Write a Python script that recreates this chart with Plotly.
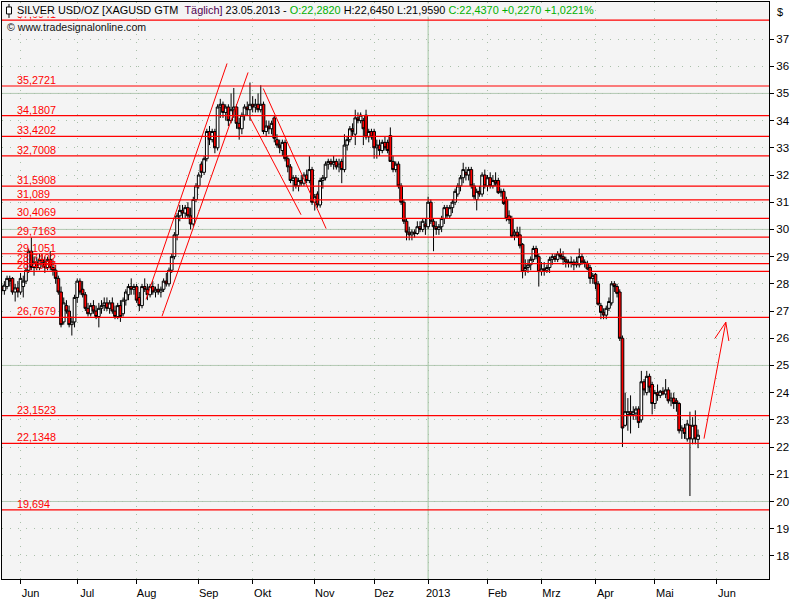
import pandas as pd
import plotly.graph_objects as go

# ---------------- data ----------------
open_ = [
    27.90, 27.75, 27.90, 28.20, 28.20, 27.70, 27.85, 27.70, 27.90, 28.10,
    28.50, 29.20, 28.60, 28.80, 28.60, 28.90, 28.80, 28.60, 28.90, 28.60,
    28.50, 28.20, 27.70, 26.60, 27.20, 27.00, 26.50, 26.60, 27.50, 28.10,
    27.80, 27.60, 27.10, 26.90, 27.20, 27.00, 26.80, 27.10, 27.20, 27.30,
    27.10, 27.30, 27.00, 26.80, 27.20, 26.90, 27.40, 27.60, 27.90, 27.80,
    27.90, 27.50, 27.20, 27.90, 27.80, 27.60, 27.90, 27.70, 27.80, 27.70,
    27.80, 28.10, 28.00, 28.50, 29.00, 29.80, 30.50, 30.70, 30.60, 30.80,
    30.50, 30.20, 31.10, 31.60, 32.40, 32.10, 32.60, 33.60, 33.30, 33.60,
    33.00, 34.50, 34.60, 34.30, 34.50, 34.00, 34.40, 34.50, 33.90, 33.70,
    34.20, 34.50, 34.40, 34.60, 34.50, 34.60, 34.40, 34.60, 33.60, 33.80,
    33.70, 34.10, 33.30, 33.10, 32.90, 33.20, 32.60, 32.30, 31.80, 31.90,
    31.60, 31.80, 31.70, 32.00, 31.80, 32.20, 31.00, 31.30, 30.90, 31.80,
    31.90, 32.40, 32.50, 32.40, 32.50, 32.30, 32.50, 32.20, 33.10, 33.30,
    33.70, 33.50, 34.10, 34.00, 34.00, 34.20, 33.40, 33.60, 33.60, 33.00,
    33.10, 32.90, 33.20, 33.20, 33.45, 32.50, 32.20, 32.40, 31.60, 31.00,
    30.30, 29.90, 29.80, 29.90, 29.85, 30.10, 30.00, 30.20, 30.10, 31.00,
    30.30, 30.10, 30.00, 30.10, 30.40, 30.80, 30.50, 30.80, 31.00, 31.30,
    31.60, 31.90, 32.10, 32.00, 32.20, 31.60, 31.10, 31.40, 31.30, 32.00,
    31.60, 31.90, 31.60, 31.80, 31.80, 31.35, 31.40, 31.10, 30.50, 30.40,
    29.80, 29.90, 29.80, 29.45, 28.50, 28.60, 28.70, 28.90, 29.30, 29.00,
    28.45, 28.55, 28.50, 28.60, 28.90, 29.00, 28.90, 29.10, 29.00, 28.90,
    28.80, 28.75, 28.80, 28.70, 28.70, 29.00, 28.80, 28.75, 28.60, 28.20,
    28.35, 28.00, 27.20, 26.95, 26.85, 27.10, 27.30, 28.00, 27.90, 27.70,
    26.00, 22.80, 23.20, 23.30, 23.20, 23.25, 23.40, 23.00, 24.40, 24.00,
    24.60, 24.30, 23.60, 24.00, 23.90, 24.05, 23.95, 24.10, 23.70, 23.80,
    23.70, 23.60, 22.60, 22.70, 22.30, 22.80, 22.30, 22.80, 22.282,
]
high = [
    28.00, 28.10, 28.30, 28.30, 28.25, 28.00, 28.10, 28.40, 28.30, 28.60,
    29.30, 29.70, 29.00, 29.00, 29.10, 29.10, 29.00, 29.00, 29.20, 28.90,
    28.70, 28.30, 27.90, 27.50, 27.40, 27.20, 26.80, 27.60, 28.20, 28.20,
    28.10, 27.70, 27.30, 27.30, 27.40, 27.20, 27.30, 27.40, 27.50, 27.50,
    27.40, 27.50, 27.20, 27.30, 27.40, 27.50, 27.80, 28.00, 28.20, 28.00,
    28.00, 27.70, 28.00, 28.20, 28.00, 28.00, 28.10, 27.90, 28.00, 27.90,
    28.20, 28.40, 28.60, 29.10, 29.90, 30.60, 30.90, 30.90, 30.90, 31.00,
    30.80, 31.20, 31.70, 32.10, 32.50, 32.70, 33.70, 33.80, 33.70, 33.70,
    34.60, 34.80, 34.70, 34.60, 34.60, 35.00, 35.20, 34.60, 34.10, 34.30,
    34.60, 34.70, 35.40, 34.90, 34.80, 35.00, 35.30, 34.70, 34.00, 34.00,
    34.00, 34.20, 33.50, 33.30, 33.30, 33.30, 32.70, 32.40, 32.00, 32.00,
    31.90, 32.00, 32.10, 32.20, 32.70, 32.30, 31.30, 31.40, 31.90, 32.00,
    32.50, 32.60, 32.60, 32.70, 32.60, 32.60, 32.60, 33.50, 33.40, 33.80,
    33.90, 34.40, 34.30, 34.30, 34.10, 34.40, 33.70, 33.70, 33.70, 33.30,
    33.30, 33.30, 33.40, 33.30, 33.75, 32.70, 32.50, 32.50, 31.70, 31.10,
    30.40, 30.10, 30.00, 30.00, 30.30, 30.30, 30.40, 30.40, 31.20, 31.10,
    30.40, 30.30, 30.20, 30.50, 30.90, 30.90, 30.90, 31.10, 31.50, 31.70,
    32.00, 32.45, 32.30, 32.30, 32.30, 31.70, 31.50, 31.60, 32.10, 32.20,
    32.00, 32.10, 32.00, 32.10, 31.90, 31.50, 31.50, 31.20, 30.70, 30.50,
    30.00, 30.10, 30.10, 29.50, 28.90, 28.90, 29.00, 29.40, 29.40, 29.10,
    28.80, 28.80, 28.70, 29.00, 29.10, 29.10, 29.20, 29.30, 29.20, 29.00,
    28.90, 29.00, 28.90, 29.00, 29.30, 29.10, 28.90, 28.85, 28.70, 28.40,
    28.40, 28.10, 27.30, 27.10, 27.20, 27.50, 28.10, 28.10, 28.00, 27.80,
    26.10, 24.00, 23.80, 23.90, 23.50, 23.50, 23.50, 24.80, 24.50, 24.80,
    24.70, 24.40, 24.10, 24.30, 24.10, 24.20, 24.50, 24.20, 24.00, 24.00,
    23.80, 23.65, 22.80, 22.85, 23.00, 23.30, 23.10, 23.35, 22.645,
]
low = [
    27.60, 27.60, 27.80, 27.90, 27.60, 27.35, 27.50, 27.60, 27.50, 28.00,
    28.40, 28.50, 28.30, 28.50, 28.50, 28.60, 28.40, 28.50, 28.50, 28.30,
    28.00, 27.60, 26.40, 26.50, 26.90, 26.40, 26.10, 26.40, 27.30, 27.60,
    27.50, 27.00, 26.80, 26.80, 26.90, 26.70, 26.40, 26.90, 27.00, 27.00,
    26.90, 26.90, 26.70, 26.70, 26.60, 26.80, 27.20, 27.40, 27.60, 27.60,
    27.30, 27.00, 27.10, 27.70, 27.40, 27.50, 27.60, 27.50, 27.60, 27.50,
    27.70, 27.90, 27.90, 28.40, 28.90, 29.60, 30.30, 30.40, 30.40, 30.40,
    30.00, 30.10, 31.00, 31.50, 31.90, 32.00, 32.50, 33.10, 33.20, 32.80,
    32.90, 34.10, 34.10, 34.00, 33.80, 33.90, 34.10, 33.70, 33.30, 33.50,
    34.00, 34.20, 34.00, 34.30, 34.30, 34.30, 34.30, 33.50, 33.40, 33.50,
    33.50, 33.20, 33.00, 32.80, 32.70, 32.50, 32.10, 31.70, 31.40, 31.50,
    31.40, 31.60, 31.60, 31.70, 31.70, 30.90, 30.70, 30.80, 30.80, 31.50,
    31.80, 32.20, 32.30, 32.20, 32.20, 32.10, 31.70, 32.10, 32.90, 33.20,
    33.40, 33.10, 33.90, 33.90, 33.10, 33.30, 33.20, 33.30, 32.60, 32.60,
    32.70, 32.80, 32.90, 32.80, 32.50, 32.10, 32.10, 31.50, 30.90, 30.20,
    29.60, 29.60, 29.60, 29.70, 29.80, 29.90, 29.90, 29.80, 30.00, 30.20,
    29.20, 29.80, 29.80, 29.90, 30.20, 30.40, 30.40, 30.60, 30.90, 31.20,
    31.40, 31.70, 31.80, 31.80, 31.50, 31.10, 30.70, 31.20, 31.20, 31.50,
    31.40, 31.50, 31.50, 31.60, 31.30, 31.20, 30.90, 30.30, 30.20, 29.70,
    29.60, 29.70, 29.30, 28.20, 28.30, 28.40, 28.50, 28.80, 28.90, 27.90,
    28.30, 28.30, 28.40, 28.40, 28.70, 28.80, 28.80, 28.90, 28.70, 28.60,
    28.60, 28.60, 28.50, 28.60, 28.60, 28.70, 28.60, 28.50, 28.00, 28.00,
    27.80, 27.20, 26.70, 26.70, 26.70, 27.00, 27.20, 27.70, 27.50, 25.90,
    22.00, 22.75, 22.60, 22.50, 23.00, 23.00, 22.70, 22.90, 23.90, 23.90,
    24.00, 23.20, 23.40, 23.70, 23.80, 23.90, 23.80, 23.60, 23.50, 23.40,
    23.30, 22.50, 22.30, 22.30, 22.20, 20.20, 22.10, 22.10, 21.959,
]
close = [
    27.75, 27.95, 28.20, 28.10, 27.70, 27.85, 27.70, 28.20, 28.10, 28.50,
    29.20, 28.60, 28.80, 28.60, 28.90, 28.80, 28.60, 28.90, 28.60, 28.50,
    28.20, 27.70, 26.50, 27.30, 27.00, 26.50, 26.60, 27.50, 28.10, 27.70,
    27.60, 27.10, 26.90, 27.20, 27.00, 26.80, 27.10, 27.20, 27.30, 27.10,
    27.30, 27.00, 26.80, 27.20, 26.80, 27.40, 27.70, 27.90, 27.80, 27.90,
    27.40, 27.20, 27.90, 27.80, 27.60, 27.90, 27.70, 27.80, 27.70, 27.80,
    28.10, 28.00, 28.50, 29.00, 29.80, 30.50, 30.70, 30.60, 30.80, 30.50,
    30.20, 31.10, 31.60, 32.00, 32.10, 32.60, 33.60, 33.30, 33.60, 33.00,
    34.50, 34.60, 34.30, 34.50, 34.00, 34.40, 34.50, 33.90, 33.70, 34.20,
    34.50, 34.40, 34.60, 34.50, 34.60, 34.40, 34.60, 33.60, 33.80, 33.70,
    33.90, 33.35, 33.10, 33.00, 33.20, 32.60, 32.30, 31.80, 31.90, 31.60,
    31.80, 31.70, 32.00, 31.80, 32.20, 31.00, 31.20, 30.90, 31.80, 31.90,
    32.40, 32.50, 32.40, 32.50, 32.30, 32.40, 32.20, 33.10, 33.30, 33.70,
    33.60, 34.10, 34.00, 34.20, 33.70, 33.40, 33.60, 33.40, 33.00, 33.10,
    32.90, 33.20, 33.00, 32.90, 32.50, 32.20, 32.40, 31.60, 31.00, 30.30,
    29.90, 29.80, 29.90, 29.85, 30.10, 30.00, 30.30, 30.10, 31.00, 30.30,
    30.10, 30.00, 30.10, 30.40, 30.80, 30.50, 30.80, 31.00, 31.40, 31.60,
    31.90, 32.20, 32.00, 32.20, 31.60, 31.20, 31.40, 31.30, 32.00, 31.60,
    31.90, 31.60, 31.80, 31.70, 31.35, 31.40, 30.95, 30.40, 30.35, 29.75,
    29.90, 29.75, 29.40, 28.45, 28.60, 28.70, 28.90, 29.30, 29.00, 28.45,
    28.55, 28.50, 28.60, 28.90, 29.00, 28.90, 29.10, 29.00, 28.90, 28.80,
    28.75, 28.80, 28.70, 28.80, 29.00, 28.80, 28.75, 28.55, 28.20, 28.30,
    28.00, 27.25, 26.95, 26.85, 27.10, 27.35, 28.00, 27.90, 27.65, 26.00,
    22.70, 23.30, 23.30, 23.20, 23.30, 23.40, 22.90, 24.40, 24.10, 24.60,
    24.20, 23.60, 24.00, 23.90, 24.05, 23.95, 24.10, 23.70, 23.80, 23.60,
    23.60, 22.60, 22.70, 22.50, 22.85, 22.30, 22.80, 22.30, 22.437,
]

holidays = ["2012-12-25", "2013-01-01", "2013-03-29"]
dates = [d.strftime("%Y-%m-%d") for d in pd.bdate_range("2012-05-23", "2013-05-23")
         if d.strftime("%Y-%m-%d") not in holidays]

level_values = [37.6941, 35.2721, 34.1807, 33.4202, 32.7008, 31.5908, 31.089, 30.4069,
                29.7163, 29.1051, 28.7402, 28.4588, 26.7679, 23.1523, 22.1348, 19.694]
level_labels = ["37,6941", "35,2721", "34,1807", "33,4202", "32,7008", "31,5908", "31,089",
                "30,4069", "29,7163", "29,1051", "28,7402", "28,4588", "26,7679", "23,1523",
                "22,1348", "19,694"]

month_ticks = ["2012-06-01", "2012-07-02", "2012-08-01", "2012-09-03", "2012-10-01",
               "2012-11-01", "2012-12-03", "2013-01-02", "2013-02-01", "2013-03-01",
               "2013-04-01", "2013-05-01", "2013-06-03"]
month_labels = ["Jun", "Jul", "Aug", "Sep", "Okt", "Nov", "Dez", "2013", "Feb", "Mrz",
                "Apr", "Mai", "Jun"]
price_ticks = list(range(18, 38))
major_levels = [20, 25, 30, 35]
year_line = "2013-01-02"

trend_x0 = ["2012-08-06 12:00", "2012-08-14 10:00", "2012-09-28 00:00", "2012-10-04 22:00",
            "2013-05-27 05:00", "2013-05-31 07:00", "2013-06-06 07:00"]
trend_y0 = [27.43, 26.81, 34.12, 35.18, 22.31, 26.00, 26.59]
trend_x1 = ["2012-09-17 12:00", "2012-09-27 07:00", "2012-10-24 22:00", "2012-11-07 05:00",
            "2013-06-06 07:00", "2013-06-06 07:00", "2013-06-07 10:00"]
trend_y1 = [36.10, 35.77, 30.54, 30.03, 26.59, 26.59, 25.90]

# ---------------- figure ----------------
W, H = 800, 600
ML, MR, MT, MB = 1, 31, 1, 20
PW, PH = W - ML - MR, H - MT - MB
FONT = "Liberation Sans, Arial, sans-serif"
BG = "#f4f4f4"
GRID = "#a9bfa9"


def px_x(px):
    return (px - ML) / PW


def px_y(py):
    return 1 - (py - MT) / PH


fig = go.Figure()

fig.add_trace(go.Candlestick(
    x=dates, open=open_, high=high, low=low, close=close,
    increasing=dict(line=dict(color="black", width=1), fillcolor="#ffffff"),
    decreasing=dict(line=dict(color="black", width=1), fillcolor="#ff0000"),
    whiskerwidth=0, showlegend=False, hoverinfo="skip",
))

for xa, ya, xb, yb in zip(trend_x0, trend_y0, trend_x1, trend_y1):
    fig.add_trace(go.Scatter(x=[xa, xb], y=[ya, yb], mode="lines",
                             line=dict(color="#ff0000", width=1),
                             showlegend=False, hoverinfo="skip"))

shapes = []
for v in major_levels:
    shapes.append(dict(type="line", xref="paper", x0=0, x1=1, yref="y", y0=v, y1=v,
                       line=dict(color="#b3c9b3", width=1), layer="below"))
shapes.append(dict(type="line", xref="x", x0=year_line, x1=year_line, yref="paper", y0=0, y1=1,
                   line=dict(color="#a3c6a3", width=1), layer="below"))
for v in level_values:
    shapes.append(dict(type="line", xref="paper", x0=0, x1=1, yref="y", y0=v, y1=v,
                       line=dict(color="#ff0000", width=1.2), layer="above"))
# small candle icon in the header
shapes.append(dict(type="line", xref="paper", yref="paper", x0=px_x(8), x1=px_x(8),
                   y0=px_y(3), y1=px_y(17), line=dict(color="black", width=1)))
shapes.append(dict(type="rect", xref="paper", yref="paper", x0=px_x(5.5), x1=px_x(10.5),
                   y0=px_y(6), y1=px_y(13), line=dict(color="black", width=1),
                   fillcolor="white"))

annotations = []
for v, t in zip(level_values, level_labels):
    annotations.append(dict(x=px_x(15), xref="paper", y=v, yref="y", text=t,
                            xanchor="left", yanchor="bottom", showarrow=False,
                            font=dict(family=FONT, size=10.8, color="#ff0000"),
                            borderpad=0, yshift=-1))

title_html = ("SILVER USD/OZ [XAGUSD GTM\u00a0\u00a0<span style='color:#500050'>Täglich]</span>"
              " 23.05.2013 - <span style='color:#00b000'>O:22,2820</span>"
              " H:22,6450 L:21,9590 "
              "<span style='color:#00b000'>C:22,4370 +0,2270 +1,0221%</span>")
annotations.append(dict(x=px_x(15), xref="paper", y=px_y(2), yref="paper", text=title_html,
                        xanchor="left", yanchor="top", showarrow=False, bgcolor=BG,
                        borderpad=0, font=dict(family=FONT, size=10.9, color="black")))
annotations.append(dict(x=px_x(4), xref="paper", y=px_y(26), yref="paper",
                        text="© www.tradesignalonline.com", xanchor="left", yanchor="middle",
                        showarrow=False, font=dict(family=FONT, size=10.6, color="#111111")))
annotations.append(dict(x=1, xref="paper", y=px_y(3), yref="paper", text="$",
                        xanchor="left", yanchor="top", xshift=6, showarrow=False,
                        font=dict(family=FONT, size=11, color="black")))

fig.update_layout(
    width=W, height=H,
    margin=dict(l=ML, r=MR, t=MT, b=MB, pad=0),
    paper_bgcolor="white", plot_bgcolor=BG,
    boxgap=0.0, boxgroupgap=0,
    shapes=shapes, annotations=annotations,
    showlegend=False,
    xaxis=dict(
        type="date",
        range=["2012-05-23 03:00", "2013-06-28 07:00"],
        rangebreaks=[dict(bounds=["sat", "mon"]), dict(values=holidays)],
        rangeslider=dict(visible=False),
        tickmode="array", tickvals=month_ticks, ticktext=month_labels,
        ticks="outside", ticklen=4, tickcolor="black", tickwidth=1,
        ticklabelshift=10, ticklabelstandoff=0,
        tickfont=dict(family=FONT, size=11, color="black"),
        showgrid=True, gridcolor=GRID, griddash="1px,7px", gridwidth=1,
        showline=True, linecolor="black", linewidth=1, mirror=True,
        zeroline=False, fixedrange=True,
    ),
    yaxis=dict(
        side="right",
        range=[17.15, 38.36],
        tickmode="array", tickvals=price_ticks,
        ticks="outside", ticklen=4, tickcolor="black", tickwidth=1,
        tickfont=dict(family=FONT, size=11.5, color="black"),
        showgrid=True, gridcolor=GRID, griddash="1px,7px", gridwidth=1,
        showline=True, linecolor="black", linewidth=1, mirror=True,
        zeroline=False, fixedrange=True,
    ),
)

fig.write_html("out.html", config={"displayModeBar": False, "staticPlot": True},
               post_script="document.body.style.margin='0';")
